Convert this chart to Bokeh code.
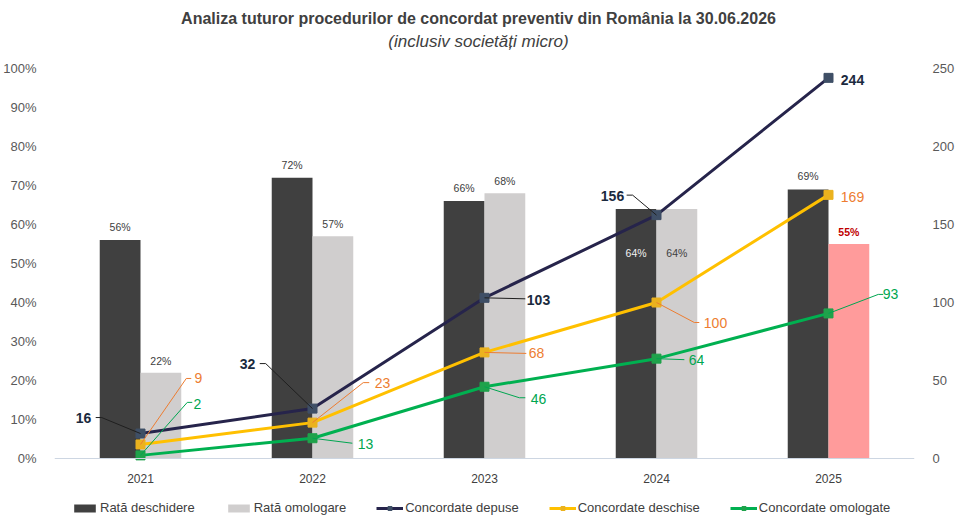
from bokeh.plotting import figure
from bokeh.models import (Range1d, LinearAxis, FixedTicker, Legend, LegendItem,
                          Label, Span, NumeralTickFormatter, ColumnDataSource)
from bokeh.embed import file_html
from bokeh.resources import INLINE

# ---- data ----
years = ["2021", "2022", "2023", "2024", "2025"]
rata_deschidere = [0.56, 0.72, 0.66, 0.64, 0.69]
rata_omologare = [0.22, 0.57, 0.68, 0.64, 0.55]
concordate_depuse = [16, 32, 103, 156, 244]
concordate_deschise = [9, 23, 68, 100, 169]
concordate_omologate = [2, 13, 46, 64, 93]
pct_ticks = [0.0, 0.1, 0.2, 0.3, 0.4, 0.5, 0.6, 0.7, 0.8, 0.9, 1.0]
count_ticks = [0, 50, 100, 150, 200, 250]

# ---- layout constants (pixels) ----
W, H = 957, 525
LEFT, RIGHT = 53, 40
PLOT_TOP, PLOT_BOTTOM = 68, 458     # where 100% / 0% sit on the canvas
FRAME_W = W - LEFT - RIGHT
UNIT_H = PLOT_BOTTOM - PLOT_TOP     # pixels for 0..100%
COUNT_MAX = 250
PX_X = FRAME_W / len(years)         # pixels per category
PX_Y = UNIT_H / COUNT_MAX           # pixels per count unit
BAR_W = 0.237
FONT = "'Liberation Sans', Arial, sans-serif"

# the frame covers the whole height so titles, year labels and legend live inside it
y_lo = -(H - PLOT_BOTTOM) / UNIT_H
y_hi = 1 + PLOT_TOP / UNIT_H

xs = list(range(len(years)))

p = figure(width=W, height=H, output_backend="svg", toolbar_location=None,
           title=None, x_axis_location=None,
           x_range=Range1d(-0.5, len(years) - 0.5), y_range=Range1d(y_lo, y_hi),
           min_border_left=LEFT, min_border_right=RIGHT, min_border_top=0,
           min_border_bottom=0)
p.extra_y_ranges = {"cnt": Range1d(y_lo * COUNT_MAX, y_hi * COUNT_MAX)}
p.outline_line_color = None
p.xgrid.visible = False
p.ygrid.visible = False
p.background_fill_color = "white"
p.border_fill_color = "white"

def px_to_x(px):
    return -0.5 + (px - LEFT) / PX_X

def px_to_y(py):
    return (PLOT_BOTTOM - py) / UNIT_H

# titles
p.add_layout(Label(x=px_to_x(479), y=px_to_y(18),
                   text="Analiza tuturor procedurilor de concordat preventiv din România la 30.06.2026",
                   text_align="center", text_baseline="middle", text_font=FONT,
                   text_font_size="16px", text_font_style="bold", text_color="#404040"))
p.add_layout(Label(x=px_to_x(479), y=px_to_y(41), text="(inclusiv societăți micro)",
                   text_align="center", text_baseline="middle", text_font=FONT,
                   text_font_size="17px", text_font_style="italic", text_color="#404040"))

# category axis: base line and year labels
p.add_layout(Span(location=0, dimension="width", line_color="#CDD6E2", line_width=1))
for i, yr in enumerate(years):
    p.add_layout(Label(x=i, y=0, y_offset=-20, text=yr, text_align="center",
                       text_baseline="middle", text_font=FONT, text_font_size="12px",
                       text_color="#404040"))

# value axes
ya = p.yaxis[0]
ya.ticker = FixedTicker(ticks=pct_ticks)
ya.formatter = NumeralTickFormatter(format="0%")
ya.axis_line_color = None
ya.major_tick_line_color = None
ya.minor_tick_line_color = None
ya.major_label_text_font = FONT
ya.major_label_text_font_size = "13px"
ya.major_label_text_color = "#595959"
ya.major_label_standoff = 12

ra = LinearAxis(y_range_name="cnt", ticker=FixedTicker(ticks=count_ticks))
ra.axis_line_color = None
ra.major_tick_line_color = None
ra.minor_tick_line_color = None
ra.major_label_text_font = FONT
ra.major_label_text_font_size = "13px"
ra.major_label_text_color = "#595959"
ra.major_label_standoff = 12
p.add_layout(ra, "right")

# ---- bars ----
omolog_colors = ["#D0CECE"] * (len(years) - 1) + ["#FF9B9B"]
bars = ColumnDataSource(dict(
    xd=[i - BAR_W / 2 for i in xs], xo=[i + BAR_W / 2 for i in xs],
    d=rata_deschidere, o=rata_omologare, oc=omolog_colors))
r_desch = p.vbar(x="xd", top="d", width=BAR_W, source=bars,
                 fill_color="#404040", line_color=None)
r_omol = p.vbar(x="xo", top="o", width=BAR_W, source=bars,
                fill_color="oc", line_color=None)

def pct(v):
    return f"{round(v * 100)}%"

# bar value labels (2024 labels sit inside the bars)
for i, v in enumerate(rata_deschidere):
    inside = i == 3
    p.add_layout(Label(x=i - BAR_W / 2, y=v, text=pct(v), y_offset=-44 if inside else 13,
                       text_align="center", text_baseline="middle",
                       text_font=FONT, text_font_size="10.5px",
                       text_color="#F2F2F2" if inside else "#404040"))
for i, v in enumerate(rata_omologare):
    inside = i == 3
    last = i == len(years) - 1
    p.add_layout(Label(x=i + BAR_W / 2, y=v, text=pct(v), y_offset=-44 if inside else 12,
                       text_align="center", text_baseline="middle",
                       text_font=FONT, text_font_size="10.5px",
                       text_font_style="bold" if last else "normal",
                       text_color="#C00000" if last else "#404040"))

# ---- lines ----
series = [
    ("Concordate depuse", concordate_depuse, "#26244B", "#3F4F66"),
    ("Concordate deschise", concordate_deschise, "#FFC000", "#EBB21E"),
    ("Concordate omologate", concordate_omologate, "#00B050", "#1FA24B"),
]
line_items = []
for name, vals, lc, mc in series:
    rl = p.line(xs, vals, y_range_name="cnt", line_color=lc, line_width=3)
    rm = p.scatter(xs, vals, y_range_name="cnt", marker="square", size=9,
                   fill_color=mc, line_color=mc)
    line_items.append((name, rl, rm))

# label placement in pixels relative to each point: (dx, dy) and leader polyline
label_pos = {
    "Concordate depuse": [
        ((-57, 16), [(0, 0), (-39, 16), (-45, 16)]),
        ((-65, 45), [(0, 0), (-47, 45), (-53, 45)]),
        ((54, -2), [(0, 0), (41, -1)]),
        ((-44, 19), [(0, 0), (-24, 20), (-30, 20)]),
        ((24, -2), None),
    ],
    "Concordate deschise": [
        ((58, 66), [(0, 0), (46, 66), (51, 66)]),
        ((70, 40), [(0, 0), (51, 40), (57, 40)]),
        ((52, -1), [(0, 0), (42, -1)]),
        ((59, -20), [(0, 0), (38, -20), (43, -20)]),
        ((24, -2), None),
    ],
    "Concordate omologate": [
        ((57, 51), [(0, 0), (47, 53), (52, 53)]),
        ((53, -6), [(0, 0), (40, -5)]),
        ((54, -12), [(0, 0), (35, -11), (41, -11)]),
        ((40, -1), [(0, 0), (28, -1)]),
        ((62, 19), [(0, 0), (50, 19), (55, 19)]),
    ],
}
label_style = {
    "Concordate depuse": ("#1B2A3E", "#1F1F1F", "bold"),
    "Concordate deschise": ("#ED7D31", "#ED7D31", "normal"),
    "Concordate omologate": ("#00A650", "#00A650", "normal"),
}
for name, vals, _, _ in series:
    tc, lc, fs = label_style[name]
    for i, v in enumerate(vals):
        (dx, dy), leader = label_pos[name][i]
        if leader:
            p.line([i + a / PX_X for a, _ in leader], [v + b / PX_Y for _, b in leader],
                   y_range_name="cnt", line_color=lc, line_width=1)
        p.add_layout(Label(x=i, y=v, y_range_name="cnt", x_offset=dx, y_offset=dy,
                           text=str(v), text_align="center", text_baseline="middle",
                           text_font=FONT, text_font_size="14px",
                           text_font_style=fs, text_color=tc))

# ---- legend ----
items = [LegendItem(label="Rată deschidere", renderers=[r_desch]),
         LegendItem(label="Rată omologare", renderers=[r_omol])]
items += [LegendItem(label=n, renderers=[rl, rm]) for n, rl, rm in line_items]
legend = Legend(items=items, orientation="horizontal", location=(17, 10),
                glyph_width=27, glyph_height=10, label_standoff=2, spacing=30,
                padding=5, margin=0, border_line_color=None,
                background_fill_alpha=0, label_text_font=FONT,
                label_text_font_size="13px", label_text_color="#404040")
p.add_layout(legend, "center")

open("out.html", "w").write(file_html(p, INLINE))
